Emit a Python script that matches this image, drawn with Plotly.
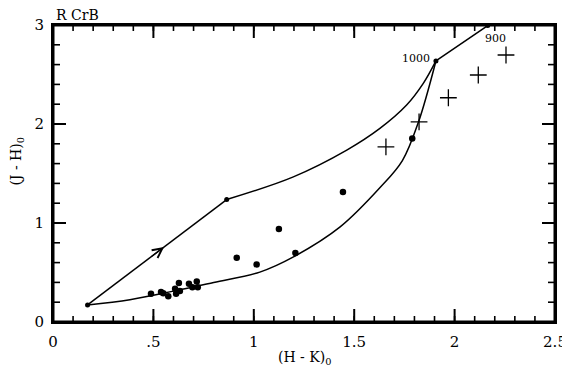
import plotly.graph_objects as go

# --- data ---
hk_dots = [0.488, 0.538, 0.549, 0.574, 0.613, 0.608, 0.627, 0.632, 0.677, 0.694, 0.716, 0.721,
           0.915, 1.014, 1.125, 1.207, 1.444, 1.789]
jh_dots = [0.285, 0.302, 0.291, 0.261, 0.285, 0.336, 0.393, 0.312, 0.387, 0.352, 0.410, 0.352,
           0.650, 0.582, 0.939, 0.696, 1.314, 1.854]

hk_plus = [1.658, 1.823, 1.969, 2.118, 2.256]
jh_plus = [1.769, 2.022, 2.265, 2.495, 2.697]

# lower track (smooth)
hk_low = [0.172, 0.383, 0.600, 0.800, 1.030, 1.200, 1.430, 1.630, 1.740, 1.820, 1.907]
jh_low = [0.172, 0.225, 0.312, 0.400, 0.504, 0.660, 0.960, 1.360, 1.630, 2.020, 2.637]

# upper track: straight part, then curve, then straight to 900
hk_up_straight = [0.172, 0.865]
jh_up_straight = [0.172, 1.237]
hk_up_curve = [0.865, 1.197, 1.463, 1.628, 1.761, 1.844, 1.907]
jh_up_curve = [1.237, 1.466, 1.736, 1.955, 2.191, 2.410, 2.637]
hk_top = [1.907, 2.165]
jh_top = [2.637, 2.994]

node_labels = ["1000", "900"]

x_range = [0, 2.5]
y_range = [0, 3]
x_ticks = [0, 0.5, 1, 1.5, 2, 2.5]
x_ticktext = ["0", ".5", "1", "1.5", "2", "2.5"]
y_ticks = [0, 1, 2, 3]
y_ticktext = ["0", "1", "2", "3"]
x_minor = [i / 10 for i in range(26)]
y_minor = [i / 5 for i in range(16)]

FONT = "DejaVu Serif"
BLACK = "#000000"

# figure geometry (page body adds an 8px margin)
W, H = 562, 358
ML, MR, MT, MB = 45, 15, 17, 44
px_x = (x_range[1] - x_range[0]) / (W - ML - MR)   # data units per pixel
px_y = (y_range[1] - y_range[0]) / (H - MT - MB)

fig = go.Figure()

line_style = dict(color=BLACK, width=1.5)
fig.add_trace(go.Scatter(x=hk_low, y=jh_low, mode="lines", line=dict(shape="spline", smoothing=1.0, **line_style)))
fig.add_trace(go.Scatter(x=hk_up_straight, y=jh_up_straight, mode="lines+markers",
                         line=line_style, marker=dict(size=5, color=BLACK)))
fig.add_trace(go.Scatter(x=hk_up_curve, y=jh_up_curve, mode="lines",
                         line=dict(shape="spline", smoothing=1.0, **line_style)))
fig.add_trace(go.Scatter(x=hk_top, y=jh_top, mode="lines+markers", cliponaxis=False,
                         line=line_style, marker=dict(size=5, color=BLACK)))

fig.add_trace(go.Scatter(x=hk_dots, y=jh_dots, mode="markers",
                         marker=dict(size=6.5, color=BLACK)))
fig.add_trace(go.Scatter(x=hk_plus, y=jh_plus, mode="markers",
                         marker=dict(symbol="cross-thin", size=12, line=dict(color=BLACK, width=1.3))))


# tick marks (inside, on all four sides), built from the tick values
def tick_segments(vals, length_px, vertical):
    xs, ys = [], []
    for v in vals:
        if vertical:
            L = length_px * px_y
            xs += [v, v, None, v, v, None]
            ys += [y_range[0], y_range[0] + L, None, y_range[1], y_range[1] - L, None]
        else:
            L = length_px * px_x
            ys += [v, v, None, v, v, None]
            xs += [x_range[0], x_range[0] + L, None, x_range[1], x_range[1] - L, None]
    return xs, ys


for vals, ln, vert, w in [(x_ticks, 13, True, 2), (x_minor, 6, True, 1.6),
                          (y_ticks, 13, False, 2), (y_minor, 7, False, 1.6)]:
    tx_, ty_ = tick_segments(vals, ln, vert)
    fig.add_trace(go.Scatter(x=tx_, y=ty_, mode="lines", line=dict(color=BLACK, width=w),
                             hoverinfo="skip"))

# frame: native axis lines plus a rectangle shape
fig.add_shape(type="rect", xref="x", yref="y", x0=x_range[0], y0=y_range[0],
              x1=x_range[1], y1=y_range[1], line=dict(color=BLACK, width=3), layer="above")

# arrow on straight segment
t = 0.55
tx = hk_up_straight[0] + t * (hk_up_straight[1] - hk_up_straight[0])
ty = jh_up_straight[0] + t * (jh_up_straight[1] - jh_up_straight[0])
t2 = 0.45
bx = hk_up_straight[0] + t2 * (hk_up_straight[1] - hk_up_straight[0])
by = jh_up_straight[0] + t2 * (jh_up_straight[1] - jh_up_straight[0])
fig.add_annotation(x=tx, y=ty, ax=bx, ay=by, xref="x", yref="y", axref="x", ayref="y",
                   text="", showarrow=True, arrowhead=5, arrowsize=1.6, arrowwidth=1.2,
                   arrowcolor=BLACK, standoff=0)

# node labels
fig.add_annotation(x=hk_top[0], y=jh_top[0], text=node_labels[0], showarrow=False,
                   xanchor="right", yanchor="middle", xshift=-4, yshift=2,
                   font=dict(family=FONT, size=11, color=BLACK))
fig.add_annotation(x=hk_top[1], y=jh_top[1], text=node_labels[1], showarrow=False,
                   xanchor="center", yanchor="middle", xshift=8, yshift=-13,
                   font=dict(family=FONT, size=11, color=BLACK))

# title
fig.add_annotation(x=0, y=1, xref="paper", yref="paper", text="R CrB", showarrow=False,
                   xanchor="left", yanchor="bottom", xshift=1, yshift=0,
                   font=dict(family=FONT, size=14, color=BLACK))

# axis titles
fig.add_annotation(x=0.5, y=0, xref="paper", yref="paper", text="(H - K)<sub>0</sub>",
                   showarrow=False, xanchor="center", yanchor="middle", yshift=-36,
                   font=dict(family=FONT, size=14, color=BLACK))
fig.add_annotation(x=0, y=0.54, xref="paper", yref="paper", text="(J - H)<sub>0</sub>",
                   showarrow=False, xanchor="center", yanchor="middle", xshift=-36, textangle=-90,
                   font=dict(family=FONT, size=14, color=BLACK))

axis_common = dict(showgrid=False, zeroline=False, showline=True, linecolor=BLACK, linewidth=2,
                   mirror=True, ticks="", automargin=False,
                   tickfont=dict(family=FONT, size=15, color=BLACK))

fig.update_layout(
    xaxis=dict(range=x_range, tickmode="array", tickvals=x_ticks, ticktext=x_ticktext,
               ticklabelstandoff=5, **axis_common),
    yaxis=dict(range=y_range, tickmode="array", tickvals=y_ticks, ticktext=y_ticktext,
               ticklabelstandoff=4, **axis_common),
)

fig.update_layout(width=W, height=H, margin=dict(l=ML, r=MR, t=MT, b=MB, autoexpand=False),
                  paper_bgcolor="white", plot_bgcolor="white", showlegend=False)

fig.write_html("out.html")
